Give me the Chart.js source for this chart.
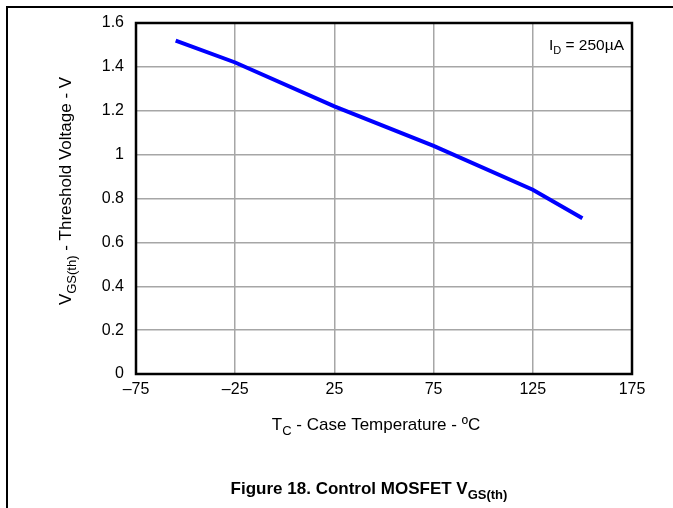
<!DOCTYPE html>
<html>
<head>
<meta charset="utf-8">
<script src="https://cdn.jsdelivr.net/npm/chart.js@4.4.1/dist/chart.umd.min.js"></script>
<style>
  html, body { margin: 0; padding: 0; background: #fff; }
  #wrap { width: 673px; height: 508px; }
</style>
</head>
<body>
<div id="wrap"><canvas id="chart" width="673" height="508"></canvas></div>
<script>
// Threshold voltage vs case temperature
const tempC = [-55, -25, 25, 75, 125, 150];
const vgsTh = [1.52, 1.42, 1.22, 1.04, 0.84, 0.71];
const xTicks = [-75, -25, 25, 75, 125, 175];
const yTicks = [0, 0.2, 0.4, 0.6, 0.8, 1, 1.2, 1.4, 1.6];

const FONT = '"Liberation Sans", Arial, sans-serif';

// draw text with optional subscript pieces
function drawRich(ctx, parts, x, y, align, size, weight) {
    const subSize = Math.round(size * 0.74);
    let total = 0;
    parts.forEach(p => {
        ctx.font = `${weight} ${p.sub ? subSize : size}px ${FONT}`;
        total += ctx.measureText(p.t).width;
    });
    let cx = align === 'center' ? x - total / 2 : (align === 'right' ? x - total : x);
    ctx.textAlign = 'left';
    ctx.textBaseline = 'alphabetic';
    parts.forEach(p => {
        ctx.font = `${weight} ${p.sub ? subSize : size}px ${FONT}`;
        ctx.fillText(p.t, cx, p.sub ? y + size * 0.28 : y);
        cx += ctx.measureText(p.t).width;
    });
}

const decorations = {
    id: 'decorations',
    beforeDraw(chart) {
        const ctx = chart.ctx;
        ctx.save();
        ctx.fillStyle = '#fff';
        ctx.fillRect(0, 0, chart.width, chart.height);
        // page rule lines
        ctx.strokeStyle = '#000';
        ctx.lineWidth = 2;
        ctx.beginPath();
        ctx.moveTo(7, chart.height);
        ctx.lineTo(7, 7);
        ctx.lineTo(chart.width, 7);
        ctx.stroke();
        ctx.restore();
    },
    afterDraw(chart) {
        const ctx = chart.ctx;
        const a = chart.chartArea;
        ctx.save();
        // plot frame
        ctx.strokeStyle = '#000';
        ctx.lineWidth = 2.5;
        ctx.strokeRect(a.left, a.top, a.right - a.left, a.bottom - a.top);

        ctx.fillStyle = '#000';
        // annotation
        drawRich(ctx, [{t: 'I'}, {t: 'D', sub: true}, {t: ' = 250\u00b5A'}], a.right - 8, a.top + 27, 'right', 15.5, 'normal');

        // x axis title
        drawRich(ctx, [{t: 'T'}, {t: 'C', sub: true}, {t: ' - Case Temperature - \u00baC'}], 376, 430, 'center', 17, 'normal');

        // y axis title (rotated)
        ctx.save();
        ctx.translate(71, 191);
        ctx.rotate(-Math.PI / 2);
        drawRich(ctx, [{t: 'V'}, {t: 'GS(th)', sub: true}, {t: ' - Threshold Voltage - V'}], 0, 0, 'center', 17, 'normal');
        ctx.restore();

        // figure caption
        drawRich(ctx, [{t: 'Figure 18. Control MOSFET V'}, {t: 'GS(th)', sub: true}], 369, 494, 'center', 17, 'bold');
        ctx.restore();
    }
};

new Chart(document.getElementById('chart'), {
    type: 'line',
    data: {
        datasets: [{
            data: tempC.map((t, i) => ({ x: t, y: vgsTh[i] })),
            borderColor: '#0000ff',
            borderWidth: 4,
            pointRadius: 0,
            tension: 0,
            fill: false
        }]
    },
    options: {
        responsive: false,
        animation: false,
        layout: { padding: { left: 96, top: 23, right: 41, bottom: 104 } },
        plugins: {
            legend: { display: false },
            tooltip: { enabled: false }
        },
        scales: {
            x: {
                type: 'linear',
                min: xTicks[0],
                max: xTicks[xTicks.length - 1],
                afterFit: s => { s.height = 30; },
                afterBuildTicks: s => { s.ticks = xTicks.map(v => ({ value: v })); },
                grid: { color: '#a6a6a6', lineWidth: 1.5, drawTicks: false },
                border: { display: false },
                ticks: {
                    padding: 6,
                    color: '#000',
                    font: { family: FONT, size: 16 },
                    callback: v => (v < 0 ? '\u2013' + Math.abs(v) : String(v))
                }
            },
            y: {
                min: yTicks[0],
                max: yTicks[yTicks.length - 1],
                afterFit: s => { s.width = 40; },
                afterBuildTicks: s => { s.ticks = yTicks.map(v => ({ value: v })); },
                grid: { color: '#a6a6a6', lineWidth: 1.5, drawTicks: false },
                border: { display: false },
                ticks: {
                    padding: 12,
                    color: '#000',
                    font: { family: FONT, size: 16 },
                    callback: v => String(Math.round(v * 10) / 10)
                }
            }
        }
    },
    plugins: [decorations]
});
</script>
</body>
</html>
